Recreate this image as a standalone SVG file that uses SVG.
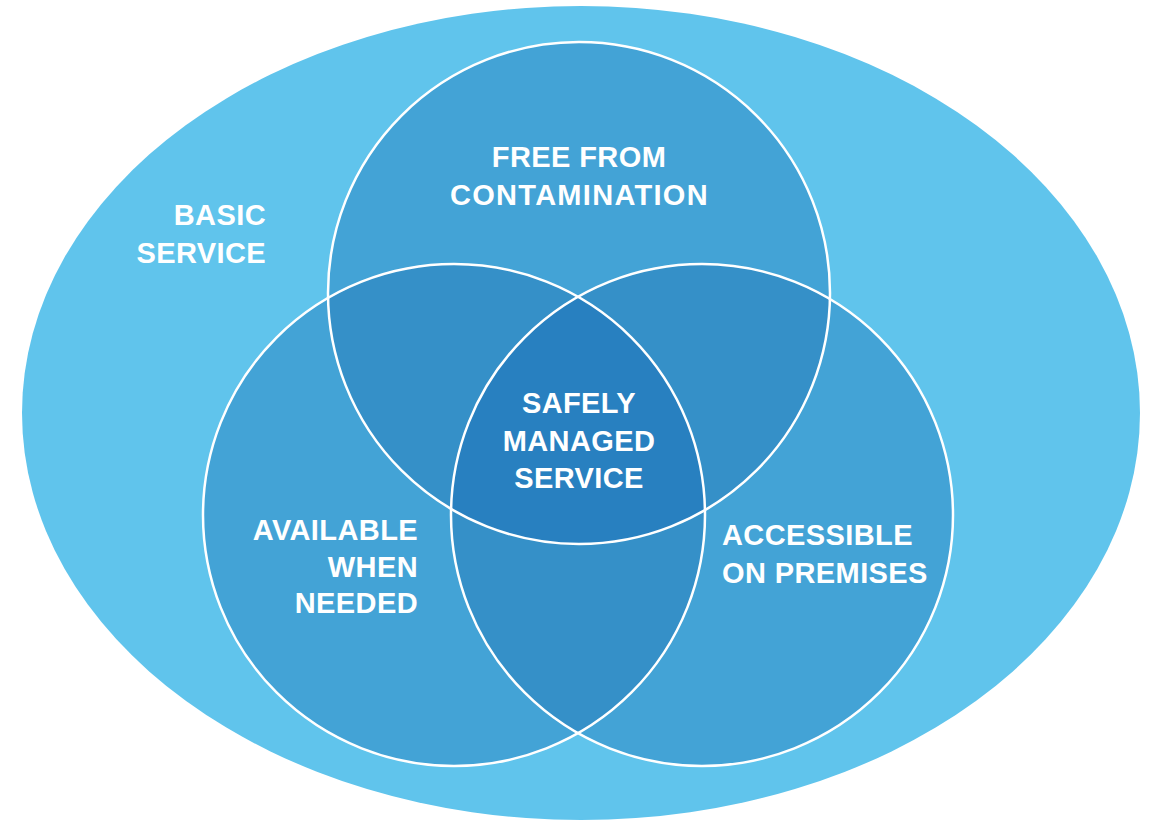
<svg xmlns="http://www.w3.org/2000/svg" width="1150" height="820" viewBox="0 0 1150 820">
  <style>
    .lbl { font-family: "Liberation Sans", Arial, sans-serif; font-weight: bold; font-size: 29px; fill: #ffffff; letter-spacing: 0.4px; }
    .ring { fill: none; stroke: #ffffff; stroke-width: 2.5; }
  </style>
  <defs>
    <circle id="cTop" cx="579" cy="293" r="251"/>
    <circle id="cLeft" cx="454" cy="515" r="251"/>
    <circle id="cRight" cx="702" cy="515" r="251"/>
    <clipPath id="clipTop"><use href="#cTop"/></clipPath>
    <clipPath id="clipLeft"><use href="#cLeft"/></clipPath>
    <clipPath id="clipRight"><use href="#cRight"/></clipPath>
  </defs>
  <rect width="1150" height="820" fill="#ffffff"/>
  <g id="basic-service">
    <ellipse cx="581" cy="413" rx="559" ry="407" fill="#60C4EC"/>
    <text class="lbl" text-anchor="end" x="266" y="225">BASIC</text>
    <text class="lbl" text-anchor="end" x="266" y="263">SERVICE</text>
  </g>
  <g id="fills">
    <use href="#cTop" fill="#43A3D6"/>
    <use href="#cLeft" fill="#43A3D6"/>
    <use href="#cRight" fill="#43A3D6"/>
    <g clip-path="url(#clipTop)"><use href="#cLeft" fill="#3590C8"/><use href="#cRight" fill="#3590C8"/></g>
    <g clip-path="url(#clipLeft)"><use href="#cRight" fill="#3590C8"/></g>
    <g clip-path="url(#clipTop)"><g clip-path="url(#clipLeft)"><use href="#cRight" fill="#2880C0"/></g></g>
  </g>
  <g id="free-from-contamination">
    <use href="#cTop" class="ring"/>
    <text class="lbl" text-anchor="middle" x="579" y="167">FREE FROM</text>
    <text class="lbl" x="450" y="205" textLength="258" lengthAdjust="spacing">CONTAMINATION</text>
  </g>
  <g id="available-when-needed">
    <use href="#cLeft" class="ring"/>
    <text class="lbl" text-anchor="end" x="418" y="540">AVAILABLE</text>
    <text class="lbl" text-anchor="end" x="418" y="577">WHEN</text>
    <text class="lbl" text-anchor="end" x="418" y="613">NEEDED</text>
  </g>
  <g id="accessible-on-premises">
    <use href="#cRight" class="ring"/>
    <text class="lbl" x="722" y="545">ACCESSIBLE</text>
    <text class="lbl" x="722" y="583">ON PREMISES</text>
  </g>
  <g id="safely-managed-service">
    <text class="lbl" text-anchor="middle" x="579" y="413">SAFELY</text>
    <text class="lbl" text-anchor="middle" x="579" y="451">MANAGED</text>
    <text class="lbl" text-anchor="middle" x="579" y="488">SERVICE</text>
  </g>
  <g id="connectors"/>
</svg>
